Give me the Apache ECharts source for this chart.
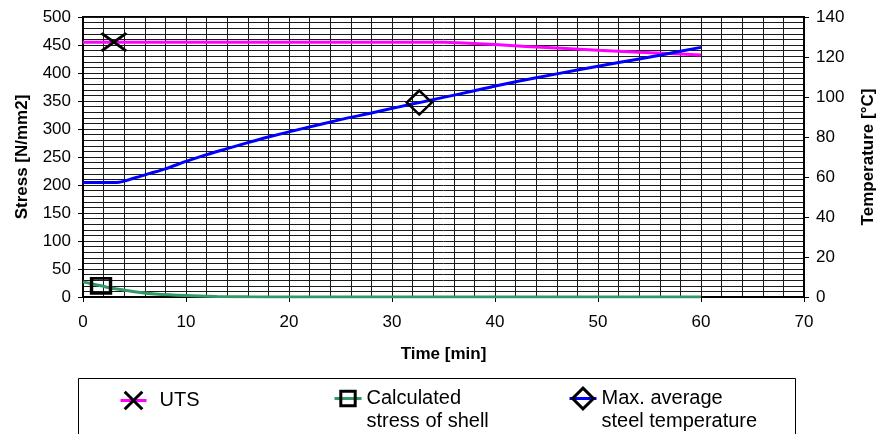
<!DOCTYPE html>
<html>
<head>
<meta charset="utf-8">
<script src="https://cdn.jsdelivr.net/npm/echarts@6/dist/echarts.min.js"></script>
<style>
  html, body { margin: 0; padding: 0; background: #fff; }
  #chart { width: 877px; height: 434px; }
</style>
</head>
<body>
<div id="chart"></div>
<script>
// UTS [N/mm2], left axis
var utsTime = [0, 3, 10, 20, 30, 35, 37, 40, 43, 46, 50, 54, 58, 60]
var utsValue = [455, 455, 455, 455, 455, 455, 453.5, 451, 447.5, 444.5, 440.5, 437, 434, 432]
var utsMarkTime = 3

// calculated stress of shell [N/mm2], left axis
var shellTime = [0, 1, 1.75, 3, 5, 7, 10, 13, 16, 20, 30, 40, 50, 60]
var shellValue = [27, 23, 20, 15, 9.5, 5.5, 2.5, 1, 0.4, 0, 0, 0, 0, 0]
var shellMarkTime = 1.75

// max. average steel temperature [°C], right axis
var tempTime = [0, 2, 3.5, 5, 6.5, 8, 10, 12, 14, 16, 18, 21, 25, 28, 30.8, 32.65, 35, 38, 40.5, 44, 48, 52, 56, 60]
var tempValue = [57.2, 57.2, 57.4, 59.5, 61.8, 64.1, 67.8, 71.2, 74.2, 77.2, 80, 83.8, 88.7, 92, 95.2, 97.2, 99.8, 103.1, 106, 109.6, 113.5, 117.2, 120.9, 124.8]
var tempMarkTime = 32.65

var seriesNames = ['UTS', 'Calculated stress of shell', 'Max. average steel temperature']
// leading blank line keeps the first text line level with the icon
var legendLabels = {
  'UTS': 'UTS',
  'Calculated stress of shell': ' \nCalculated\nstress of shell',
  'Max. average steel temperature': ' \nMax. average\nsteel temperature'
}

var font = 'Liberation Sans, Arial, sans-serif'

// only one point of each line gets a marker
function buildData (times, values, markTime, markSize) {
  return times.map(function (t, i) {
    if (t === markTime) {
      return { value: [t, values[i]], symbolSize: markSize }
    }
    return { value: [t, values[i]], symbol: 'none' }
  })
}

var chart = echarts.init(document.getElementById('chart'))

var axisText = { color: '#000', fontSize: 17, fontFamily: font }
var titleText = { color: '#000', fontSize: 17, fontWeight: 'bold', fontFamily: font }
var gridLine = { color: '#1a1a1a', width: 1 }
var legendText = { color: '#000', fontSize: 20, lineHeight: 23, fontFamily: font }
var legendMark = { color: 'rgba(0,0,0,0)', borderColor: '#000', borderWidth: 3 }

var option = {
  backgroundColor: '#fff',
  animation: false,
  grid: {
    left: 83,
    right: 73,
    top: 17,
    height: 280,
    show: true,
    borderColor: '#000',
    borderWidth: 2,
    outerBoundsMode: 'none'
  },
  xAxis: {
    type: 'value',
    min: 0,
    max: 70,
    interval: 10,
    name: 'Time [min]',
    nameLocation: 'middle',
    nameGap: 49,
    nameTextStyle: titleText,
    axisLine: { show: true, onZero: false, lineStyle: { color: '#000', width: 2 } },
    axisTick: { show: true, length: 5, lineStyle: { color: '#000' } },
    axisLabel: Object.assign({ margin: 17, showMinLabel: true, showMaxLabel: true }, axisText),
    splitLine: { show: true, lineStyle: gridLine },
    minorTick: { show: false, splitNumber: 5 },
    minorSplitLine: { show: true, lineStyle: gridLine }
  },
  yAxis: [
    {
      type: 'value',
      position: 'left',
      min: 0,
      max: 500,
      interval: 50,
      name: 'Stress [N/mm2]',
      nameLocation: 'middle',
      nameRotate: 90,
      nameGap: 52,
      nameTextStyle: titleText,
      axisLine: { show: true, onZero: false, lineStyle: { color: '#000', width: 2 } },
      axisTick: { show: true, length: 5, lineStyle: { color: '#000' } },
      axisLabel: Object.assign({ margin: 12, showMinLabel: true, showMaxLabel: true }, axisText),
      splitLine: { show: true, lineStyle: gridLine },
      minorTick: { show: false, splitNumber: 5 },
      minorSplitLine: { show: true, lineStyle: gridLine }
    },
    {
      type: 'value',
      position: 'right',
      min: 0,
      max: 140,
      interval: 20,
      name: 'Temperature [°C]',
      nameLocation: 'middle',
      nameRotate: 90,
      nameGap: 56,
      nameTextStyle: titleText,
      axisLine: { show: true, onZero: false, lineStyle: { color: '#000', width: 2 } },
      axisTick: { show: true, length: 5, lineStyle: { color: '#000' } },
      axisLabel: Object.assign({ margin: 12, showMinLabel: true, showMaxLabel: true }, axisText),
      splitLine: { show: false }
    }
  ],
  legend: [
    {
      data: [seriesNames[0]],
      left: 119,
      top: 387,
      padding: 0,
      itemWidth: 26,
      itemHeight: 22,
      formatter: function (name) { return legendLabels[name] },
      itemStyle: legendMark,
      lineStyle: { width: 3 },
      textStyle: Object.assign({ padding: [4, 0, 0, 8] }, legendText)
    },
    {
      data: [seriesNames[1]],
      left: 333,
      top: 364,
      padding: 0,
      itemWidth: 27,
      itemHeight: 18,
      formatter: function (name) { return legendLabels[name] },
      itemStyle: legendMark,
      lineStyle: { width: 3 },
      textStyle: legendText
    },
    {
      data: [seriesNames[2]],
      left: 568,
      top: 364,
      padding: 0,
      itemWidth: 27,
      itemHeight: 26,
      formatter: function (name) { return legendLabels[name] },
      itemStyle: legendMark,
      lineStyle: { width: 3 },
      textStyle: legendText
    }
  ],
  graphic: [
    {
      type: 'rect',
      z: -1,
      shape: { x: 78.5, y: 378.5, width: 717, height: 80 },
      style: { fill: '#fff', stroke: '#000', lineWidth: 1 }
    }
  ],
  series: [
    {
      name: seriesNames[0],
      type: 'line',
      yAxisIndex: 0,
      data: buildData(utsTime, utsValue, utsMarkTime, [25, 18]),
      symbol: 'path://M0,0L24,17M24,0L0,17',
      showSymbol: true,
      showAllSymbol: true,
      lineStyle: { color: '#ff00ff', width: 3 },
      itemStyle: { color: 'rgba(0,0,0,0)', borderColor: '#000', borderWidth: 3 },
      z: 3
    },
    {
      name: seriesNames[1],
      type: 'line',
      yAxisIndex: 0,
      smooth: 0.3,
      data: buildData(shellTime, shellValue, shellMarkTime, [19, 15]),
      symbol: 'rect',
      showSymbol: true,
      showAllSymbol: true,
      lineStyle: { color: '#339966', width: 3 },
      itemStyle: { color: 'rgba(0,0,0,0)', borderColor: '#000', borderWidth: 3 },
      z: 4
    },
    {
      name: seriesNames[2],
      type: 'line',
      yAxisIndex: 1,
      smooth: 0.3,
      data: buildData(tempTime, tempValue, tempMarkTime, [25, 24]),
      symbol: 'diamond',
      showSymbol: true,
      showAllSymbol: true,
      lineStyle: { color: '#0000ff', width: 3 },
      itemStyle: { color: 'rgba(0,0,0,0)', borderColor: '#000', borderWidth: 2.5 },
      z: 5
    }
  ]
}

chart.setOption(option)
</script>
</body>
</html>
